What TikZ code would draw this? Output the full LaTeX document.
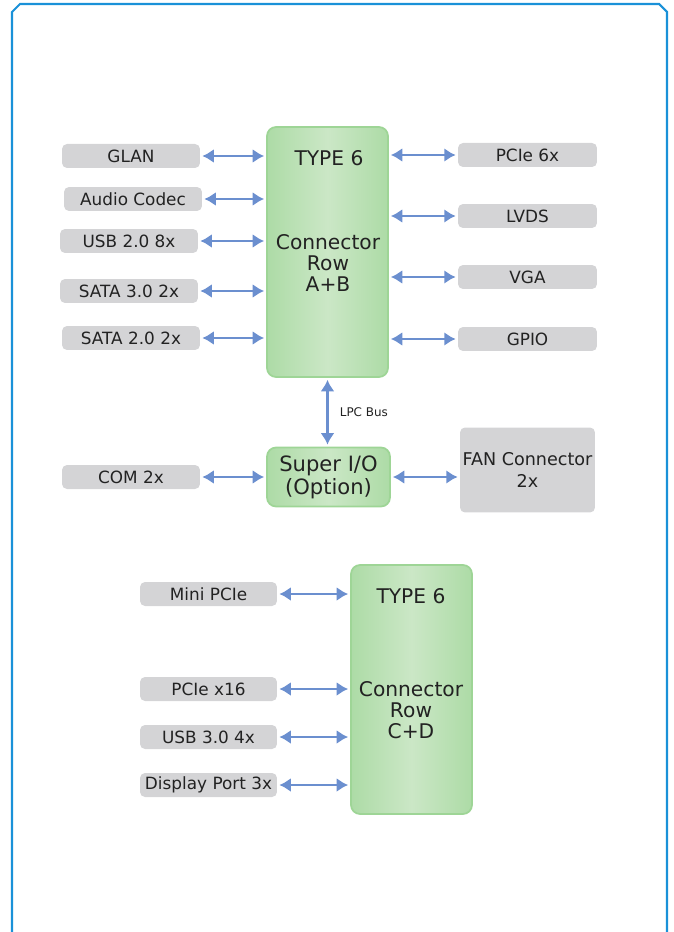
\documentclass[tikz,border=0pt]{standalone}
\usepackage{fontspec}
\setmainfont{DejaVu Sans}
\usetikzlibrary{arrows.meta}
\definecolor{framblue}{HTML}{1A91D8}
\definecolor{linkblue}{HTML}{6B8FCF}
\definecolor{boxgray}{HTML}{D4D4D6}
\definecolor{chipmid}{HTML}{CBE7C6}
\definecolor{chipedge}{HTML}{ADDBA6}
\definecolor{chipline}{HTML}{9ED596}
\definecolor{txt}{HTML}{222222}

\begin{document}
\begin{tikzpicture}[x=0.02cm,y=-0.02cm,
        side/.style={fill=boxgray,rounded corners=0.1cm,minimum width=2.76cm,minimum height=0.48cm,inner sep=0pt,text=txt,font=\fontsize{9.6}{11}\selectfont},
        chip/.style={draw=chipline,line width=1pt,left color=chipedge,right color=chipedge,middle color=chipmid,rounded corners=0.18cm,minimum width=2.42cm,inner sep=0pt},
        chiptext/.style={text=txt,align=center,inner sep=0pt,font=\fontsize{11.5}{12}\selectfont},
        link/.style={draw=linkblue,line width=1.4pt,{Latex[length=6.5pt,width=8pt]}-{Latex[length=6.5pt,width=8pt]},shorten <=0.04cm,shorten >=0.04cm},
        frame/.style={draw=framblue,line width=1.2pt}]
            \useasboundingbox (0,0) rectangle (673,932);
            \draw[frame] (12,932) -- (12,12) -- (20,4) -- (659,4) -- (667,12) -- (667,932);

            \node[chip,minimum height=5cm] (rowab) at (327.5,252) {};
            \node[chiptext] (typeab) at (329,158) {TYPE 6};
            \node[chiptext] (nameab) at (328,263) {Connector\\Row\\A+B};

            \node[chip,minimum width=2.46cm,minimum height=1.18cm] (sio) at (328.5,477) {};
            \node[chiptext,font=\fontsize{12}{13}\selectfont] (siotext) at (328.5,477) {Super I/O\\(Option)};

            \node[chip,minimum height=4.98cm] (rowcd) at (411.5,689.5) {};
            \node[chiptext] (typecd) at (411,596) {TYPE 6};
            \node[chiptext] (namecd) at (411,710) {Connector\\Row\\C+D};

            \node[side] (glan) at (131,156) {GLAN};
            \node[side] (audio) at (133,199) {Audio Codec};
            \node[side] (usb2) at (129,241) {USB 2.0 8x};
            \node[side] (sata3) at (129,291) {SATA 3.0 2x};
            \node[side] (sata2) at (131,338) {SATA 2.0 2x};

            \node[side,minimum width=2.78cm] (pcie) at (527.5,155) {PCIe 6x};
            \node[side,minimum width=2.78cm] (lvds) at (527.5,216) {LVDS};
            \node[side,minimum width=2.78cm] (vga) at (527.5,277) {VGA};
            \node[side,minimum width=2.78cm] (gpio) at (527.5,339) {GPIO};

            \node[side] (com) at (131,477) {COM 2x};
            \node[side,minimum width=2.7cm,minimum height=1.7cm,align=center,font=\fontsize{10}{12}\selectfont] (fan) at (527.5,470) {FAN Connector\\2x};

            \node[side,minimum width=2.74cm] (minipcie) at (208.5,594) {Mini PCIe};
            \node[side,minimum width=2.74cm] (pcie16) at (208.5,689) {PCIe x16};
            \node[side,minimum width=2.74cm] (usb3) at (208.5,737) {USB 3.0 4x};
            \node[side,minimum width=2.74cm] (dp) at (208.5,785) {Display Port 3x};

            \draw[link] (glan) -- (glan -| rowab.west);
            \draw[link] (audio) -- (audio -| rowab.west);
            \draw[link] (usb2) -- (usb2 -| rowab.west);
            \draw[link] (sata3) -- (sata3 -| rowab.west);
            \draw[link] (sata2) -- (sata2 -| rowab.west);

            \draw[link] (rowab.east |- pcie) -- (pcie);
            \draw[link] (rowab.east |- lvds) -- (lvds);
            \draw[link] (rowab.east |- vga) -- (vga);
            \draw[link] (rowab.east |- gpio) -- (gpio);

            \draw[link] (rowab.south) -- (rowab.south |- sio.north) node[midway,right=3pt,text=txt,font=\fontsize{6.8}{8}\selectfont] {LPC Bus};
            \draw[link] (com) -- (com -| sio.west);
            \draw[link] (sio) -- (sio -| fan.west);

            \draw[link] (minipcie) -- (minipcie -| rowcd.west);
            \draw[link] (pcie16) -- (pcie16 -| rowcd.west);
            \draw[link] (usb3) -- (usb3 -| rowcd.west);
            \draw[link] (dp) -- (dp -| rowcd.west);
        \end{tikzpicture}
\end{document}
